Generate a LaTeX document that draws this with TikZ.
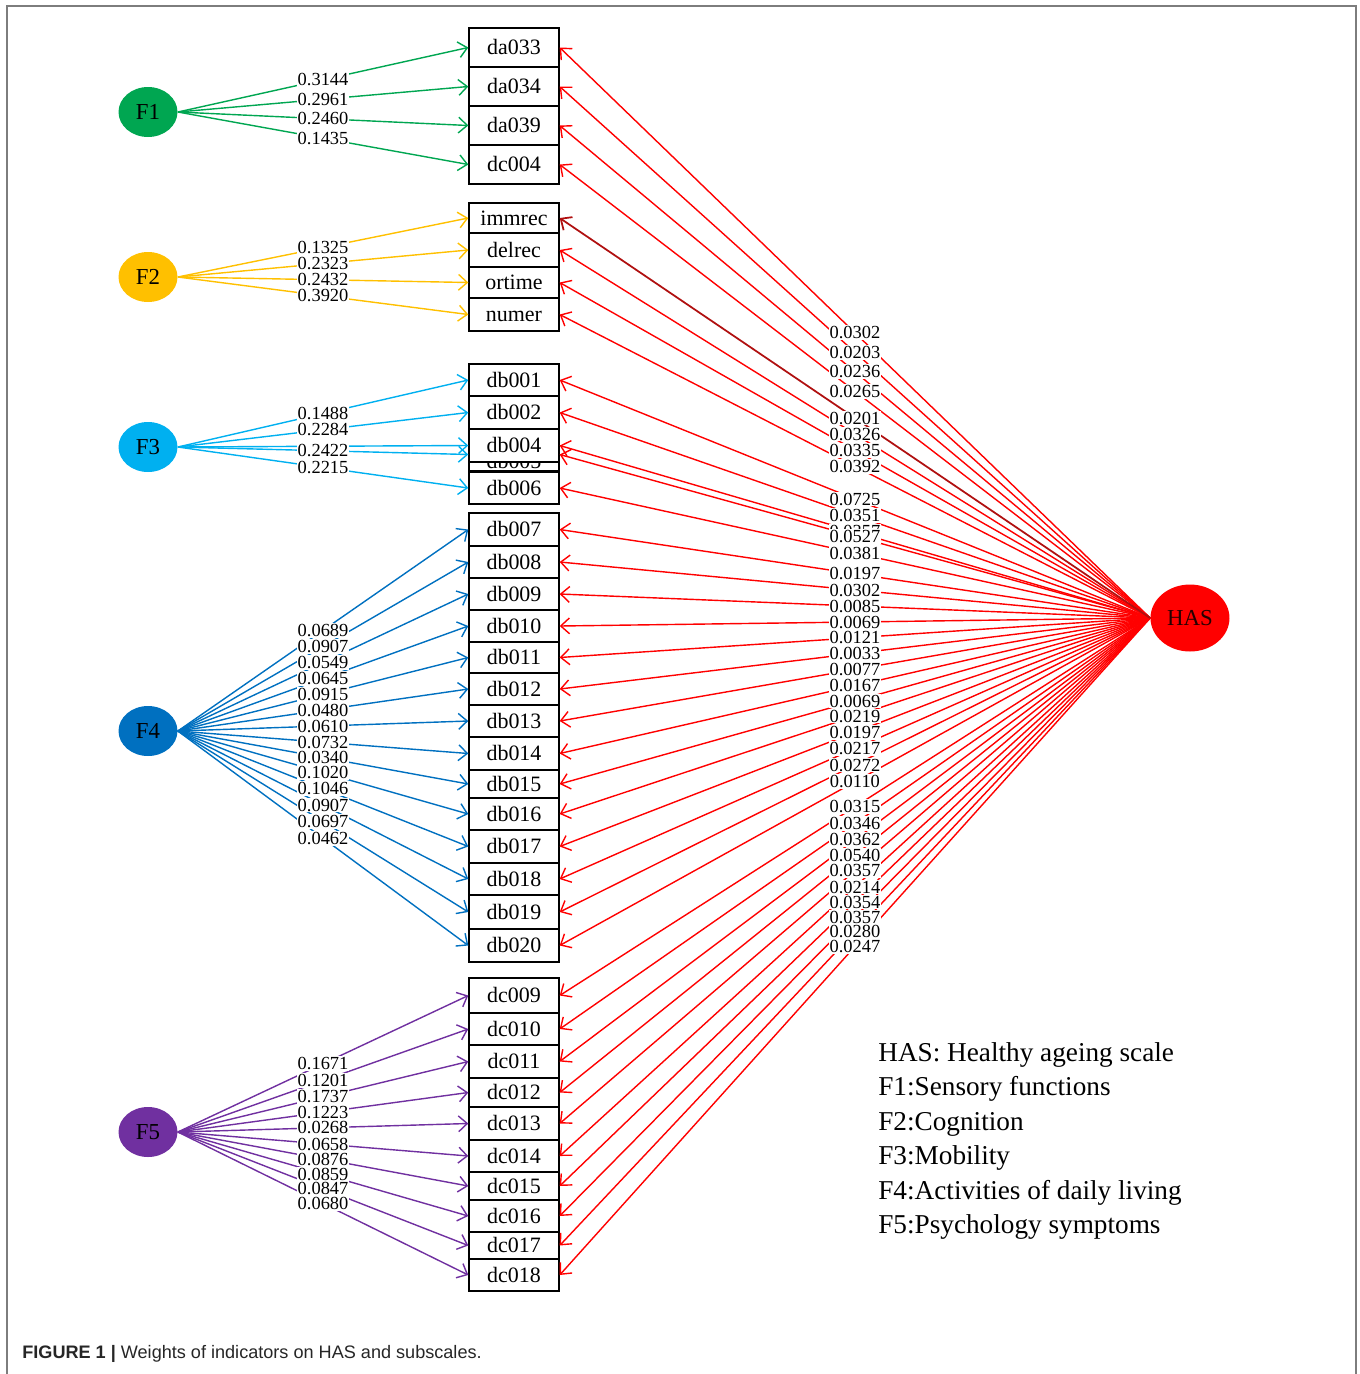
\documentclass[tikz,border=0pt]{standalone}
\usepackage{fontspec}
\setmainfont{Liberation Serif}
\newfontfamily\capfont{Liberation Sans}
\usetikzlibrary{arrows.meta,shapes.geometric}
\definecolor{fgreen}{RGB}{0,166,81}
\definecolor{fyellow}{RGB}{255,192,0}
\definecolor{fcyan}{RGB}{0,176,240}
\definecolor{fblue}{RGB}{0,112,192}
\definecolor{fpurple}{RGB}{112,48,160}
\definecolor{hasred}{RGB}{255,0,0}
\definecolor{darkhas}{RGB}{176,16,16}
\definecolor{framegray}{RGB}{125,125,125}
\begin{document}
\begin{tikzpicture}[x=0.02cm,y=-0.02cm]
      \tikzstyle{factor} = [ellipse,minimum width=1.18cm,minimum height=1cm,inner sep=0pt,font=\fontsize{13}{15}\selectfont];
      \tikzstyle{itembox} = [draw,fill=white,line width=0.8pt,minimum width=1.8cm,inner sep=0pt,text height=8.5pt,text depth=0pt,font=\fontsize{12.5}{14}\selectfont];
      \tikzstyle{wlabel} = [fill=white,inner sep=0.6pt,font=\fontsize{10.5}{11}\selectfont];
      \tikzstyle{loading} = [line width=0.8pt,-{Straight Barb[length=5pt,width=9pt]}];
      \useasboundingbox (0,0) rectangle (1360,1374);
      \draw [framegray,line width=1.2pt] (7,1374) -- (7,6) -- (1356,6) -- (1356,1374);
      \node [factor,fill=fgreen] (F1) at (148,112) {F1};
      \node [factor,fill=fyellow] (F2) at (148,277) {F2};
      \node [factor,fill=fcyan] (F3) at (148,447) {F3};
      \node [factor,fill=fblue] (F4) at (148,731) {F4};
      \node [factor,fill=fpurple] (F5) at (148,1132) {F5};
      \node [factor,fill=hasred,text=black!85!red,minimum width=1.58cm,minimum height=1.34cm] (HAS) at (1190,618) {HAS};
      \node [itembox,minimum height=33*0.02cm,text height=16.4pt] (db005) at (514,454.5) {db005};
      \foreach \name/\y/\h in {da033/47.5/39,da034/86.5/39,da039/125.5/39,dc004/164.5/39,
        immrec/218/30,delrec/250/34,ortime/282.5/31,numer/314.5/33,
        db001/380/32,db002/412.5/33,db004/445.5/33,db006/488/32,
        db007/529.5/33,db008/562/32,db009/594/32,db010/626/32,db011/657.5/31,db012/689/32,db013/721/32,
        db014/753.5/33,db015/784/28,db016/814/32,db017/846.5/33,db018/879/32,db019/912/34,db020/945.5/33,
        dc009/995.5/35,dc010/1029/32,dc011/1061.5/33,dc012/1092.5/29,dc013/1123.5/33,dc014/1156/32,
        dc015/1186/28,dc016/1216/32,dc017/1245.5/27,dc018/1275/32}
        \node [itembox,minimum height=\h*0.02cm] (\name) at (514,\y) {\name};
      \foreach \name in {da033,da034,da039,dc004}
        \draw [loading,fgreen] (F1.east) -- (\name.west);
      \foreach \name in {immrec,delrec,ortime,numer}
        \draw [loading,fyellow] (F2.east) -- (\name.west);
      \foreach \name in {db001,db002,db004,db005,db006}
        \draw [loading,fcyan] (F3.east) -- (\name.west);
      \foreach \name in {db007,db008,db009,db010,db011,db012,db013,db014,db015,db016,db017,db018,db019,db020}
        \draw [loading,fblue] (F4.east) -- (\name.west);
      \foreach \name in {dc009,dc010,dc011,dc012,dc013,dc014,dc015,dc016,dc017,dc018}
        \draw [loading,fpurple] (F5.east) -- (\name.west);
      \foreach \name in {da033,da034,da039,dc004,delrec,ortime,numer,
        db001,db002,db004,db005,db006,db007,db008,db009,db010,db011,db012,db013,db014,db015,db016,db017,db018,db019,db020,
        dc009,dc010,dc011,dc012,dc013,dc014,dc015,dc016,dc017,dc018}
        \draw [loading,hasred] (HAS.west) -- (\name.east);
      \draw [loading,darkhas,line width=1pt] (HAS.west) -- (immrec.east);
      \foreach \name/\w in {da033/0.3144,da034/0.2961,da039/0.2460,dc004/0.1435}
        \path (F1.east) -- node [wlabel] {\w} (\name.west);
      \foreach \name/\w in {immrec/0.1325,delrec/0.2323,ortime/0.2432,numer/0.3920}
        \path (F2.east) -- node [wlabel] {\w} (\name.west);
      \foreach \name/\w in {db001/0.1488,db002/0.2284,db005/0.2422,db006/0.2215}
        \path (F3.east) -- node [wlabel] {\w} (\name.west);
      \foreach \name/\w in {db007/0.0689,db008/0.0907,db009/0.0549,db010/0.0645,db011/0.0915,db012/0.0480,db013/0.0610,
        db014/0.0732,db015/0.0340,db016/0.1020,db017/0.1046,db018/0.0907,db019/0.0697,db020/0.0462}
        \path (F4.east) -- node [wlabel] {\w} (\name.west);
      \foreach \name/\w in {dc009/0.1671,dc010/0.1201,dc011/0.1737,dc012/0.1223,dc013/0.0268,dc014/0.0658,dc015/0.0876,
        dc016/0.0859,dc017/0.0847,dc018/0.0680}
        \path (F5.east) -- node [wlabel] {\w} (\name.west);
      \foreach \name/\w in {da033/0.0302,da034/0.0203,da039/0.0236,dc004/0.0265,immrec/0.0201,delrec/0.0326,ortime/0.0335,numer/0.0392,
        db001/0.0725,db002/0.0351,db004/0.0357,db005/0.0527,db006/0.0381,
        db007/0.0197,db008/0.0302,db009/0.0085,db010/0.0069,db011/0.0121,db012/0.0033,db013/0.0077,db014/0.0167,
        db015/0.0069,db016/0.0219,db017/0.0197,db018/0.0217,db019/0.0272,db020/0.0110,
        dc009/0.0315,dc010/0.0346,dc011/0.0362,dc012/0.0540,dc013/0.0357,dc014/0.0214,dc015/0.0354,dc016/0.0357,
        dc017/0.0280,dc018/0.0247}
        \path (HAS.west) -- node [wlabel] {\w} (\name.east);
      \node [anchor=north west,align=left,inner sep=0pt,font=\fontsize{15.5}{19.6}\selectfont] (legend) at (878,1042)
        {HAS: Healthy ageing scale\\F1:Sensory functions\\F2:Cognition\\F3:Mobility\\F4:Activities of daily living\\F5:Psychology symptoms};
      \node [anchor=base west,inner sep=0pt,text=black!85,font=\capfont\fontsize{10.3}{12}\selectfont] (caption) at (22,1358)
        {\textbf{FIGURE 1 |} Weights of indicators on HAS and subscales.};
    \end{tikzpicture}
\end{document}
